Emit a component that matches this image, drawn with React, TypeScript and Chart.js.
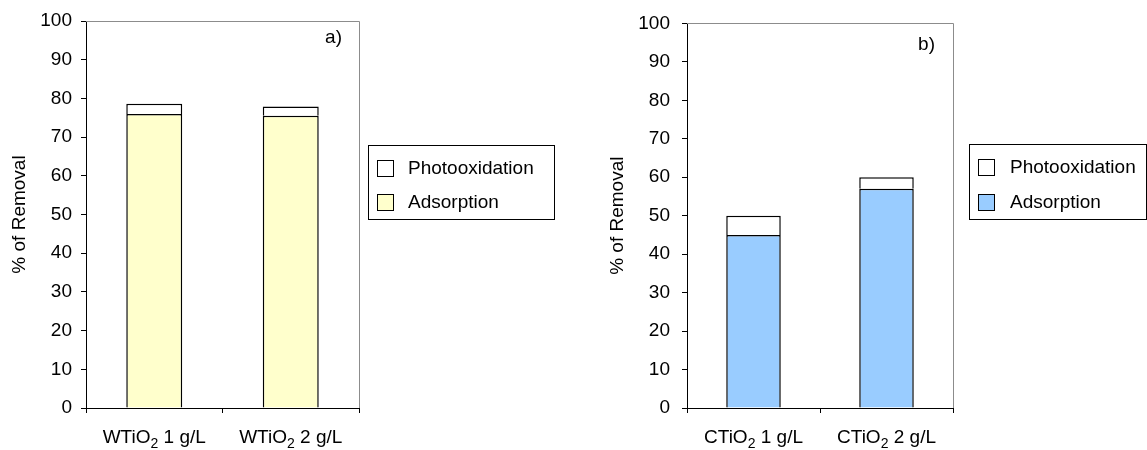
import React, { useEffect, useRef } from 'react';
import { Chart, registerables } from 'chart.js';

Chart.register(...registerables);

const FONT = '"Liberation Sans", Arial, Helvetica, sans-serif';
const FONT_SIZE = 19;

// Value axis
const yMin = 0;
const yMax = 100;
const yStep = 10;
const yTitle = '% of Removal';

// Panel a) – WTiO2
const categoriesA = ['WTiO₂ 1 g/L', 'WTiO₂ 2 g/L'];
const adsorptionA = [76, 75.5];
const photooxidationA = [2.6, 2.4];

// Panel b) – CTiO2
const categoriesB = ['CTiO₂ 1 g/L', 'CTiO₂ 2 g/L'];
const adsorptionB = [45, 57];
const photooxidationB = [5, 3];

const seriesAdsorption = 'Adsorption';
const seriesPhoto = 'Photooxidation';

// Draws category labels, rendering "₂" as a lowered smaller digit
const subscriptLabels = {
  id: 'subscriptLabels',
  afterDraw(chart: any, _a: any, opts: any) {
    const { ctx } = chart;
    const xs = chart.scales.x;
    const labels: string[] = chart.data.labels;
    ctx.save();
    ctx.fillStyle = '#000';
    ctx.textBaseline = 'alphabetic';
    ctx.textAlign = 'left';
    const mainFont = `${FONT_SIZE}px ${FONT}`;
    const subFont = `${opts.subSize}px ${FONT}`;
    labels.forEach((lab, i) => {
      const idx = lab.indexOf('₂');
      const pre = idx >= 0 ? lab.slice(0, idx) : lab;
      const post = idx >= 0 ? lab.slice(idx + 1) : '';
      const sub = idx >= 0 ? '2' : '';
      ctx.font = mainFont;
      const wPre = ctx.measureText(pre).width;
      const wPost = ctx.measureText(post).width;
      ctx.font = subFont;
      const wSub = sub ? ctx.measureText(sub).width : 0;
      const total = wPre + wSub + wPost;
      let x = xs.getPixelForValue(i) - total / 2;
      const base = xs.top + opts.baseline;
      ctx.font = mainFont;
      ctx.fillText(pre, x, base);
      x += wPre;
      if (sub) {
        ctx.font = subFont;
        ctx.fillText(sub, x, base + opts.subDrop);
        x += wSub;
      }
      ctx.font = mainFont;
      ctx.fillText(post, x, base);
    });
    ctx.restore();
  },
};

// Gray frame on the top and right sides of the plot area
const plotFrame = {
  id: 'plotFrame',
  afterDraw(chart: any) {
    const { ctx, chartArea } = chart;
    const t = Math.round(chartArea.top) + 0.5;
    const r = Math.round(chartArea.right) + 0.5;
    const b = Math.round(chartArea.bottom);
    ctx.save();
    ctx.strokeStyle = '#8c8c8c';
    ctx.lineWidth = 1;
    ctx.beginPath();
    ctx.moveTo(Math.round(chartArea.left), t);
    ctx.lineTo(r, t);
    ctx.lineTo(r, b);
    ctx.stroke();
    ctx.restore();
  },
};

// Boxed legend to the right of the plot
const boxLegend = {
  id: 'boxLegend',
  afterDraw(chart: any, _a: any, opts: any) {
    const { ctx, chartArea } = chart;
    const x = Math.round(chartArea.right + opts.gap);
    const y = Math.round(opts.top);
    ctx.save();
    ctx.strokeStyle = '#000';
    ctx.lineWidth = 1;
    ctx.strokeRect(x + 0.5, y + 0.5, opts.width, opts.height);
    const items = chart.data.datasets.slice().reverse();
    ctx.font = `${FONT_SIZE}px ${FONT}`;
    ctx.textBaseline = 'middle';
    ctx.textAlign = 'left';
    items.forEach((ds: any, i: number) => {
      const cy = y + opts.firstRow + i * opts.rowGap;
      const s = opts.swatch;
      const sx = x + opts.inset;
      const sy = Math.round(cy - s / 2);
      ctx.fillStyle = ds.backgroundColor;
      ctx.fillRect(sx, sy, s, s);
      ctx.strokeStyle = '#000';
      ctx.strokeRect(sx + 0.5, sy + 0.5, s - 1, s - 1);
      ctx.fillStyle = '#000';
      ctx.fillText(ds.label, sx + s + opts.textGap, cy + 1);
    });
    ctx.restore();
  },
};

// Panel letter in the upper right corner of the plot
const panelTag = {
  id: 'panelTag',
  afterDraw(chart: any, _a: any, opts: any) {
    const { ctx, chartArea } = chart;
    ctx.save();
    ctx.fillStyle = '#000';
    ctx.font = `${FONT_SIZE}px ${FONT}`;
    ctx.textAlign = 'right';
    ctx.textBaseline = 'alphabetic';
    ctx.fillText(opts.text, chartArea.right - opts.dx, chartArea.top + opts.dy);
    ctx.restore();
  },
};

function makeConfig(p: {
  labels: string[];
  adsorption: number[];
  photo: number[];
  fill: string;
  axisWidth: number;
  titlePad: number;
  tickPad: number;
  padTop: number;
  padRight: number;
  legend: any;
  tag: any;
}) {
  const barCommon = {
    borderColor: '#000',
    borderWidth: 1.5,
    borderSkipped: 'start',
    barPercentage: 0.41,
    categoryPercentage: 1,
  };
  return {
    type: 'bar',
    data: {
      labels: p.labels,
      datasets: [
        { label: seriesAdsorption, data: p.adsorption, backgroundColor: p.fill, ...barCommon },
        { label: seriesPhoto, data: p.photo, backgroundColor: '#ffffff', ...barCommon },
      ],
    },
    options: {
      responsive: false,
      animation: false,
      devicePixelRatio: 1,
      layout: { padding: { top: p.padTop, right: p.padRight, left: 0, bottom: 0 } },
      scales: {
        x: {
          stacked: true,
          offset: true,
          grid: {
            display: true,
            offset: true,
            drawOnChartArea: false,
            drawTicks: true,
            tickLength: 5,
            color: '#000',
            lineWidth: 1,
          },
          border: { display: true, color: '#000', width: 1 },
          ticks: { display: false },
          afterFit: (s: any) => {
            s.height = 42;
          },
        },
        y: {
          stacked: true,
          min: yMin,
          max: yMax,
          ticks: {
            stepSize: yStep,
            padding: p.tickPad,
            color: '#000',
            font: { family: FONT, size: FONT_SIZE },
          },
          grid: {
            display: true,
            drawOnChartArea: false,
            drawTicks: true,
            tickLength: 5,
            color: '#000',
            lineWidth: 1,
          },
          border: { display: true, color: '#000', width: 1 },
          title: {
            display: true,
            text: yTitle,
            color: '#000',
            font: { family: FONT, size: FONT_SIZE, lineHeight: 1 },
            padding: { top: p.titlePad, bottom: 0 },
          },
          afterFit: (s: any) => {
            s.width = p.axisWidth;
          },
        },
      },
      plugins: {
        legend: { display: false },
        tooltip: { enabled: false },
        subscriptLabels: { baseline: 35, subSize: 14, subDrop: 4.5 },
        boxLegend: p.legend,
        panelTag: p.tag,
      },
    },
    plugins: [plotFrame, subscriptLabels, boxLegend, panelTag],
  };
}

function Panel({ left, width, config }: { left: number; width: number; config: any }) {
  const ref = useRef<HTMLCanvasElement | null>(null);
  useEffect(() => {
    if (!ref.current) return;
    const chart = new Chart(ref.current, config);
    return () => chart.destroy();
  }, [config]);
  return (
    <canvas
      ref={ref}
      width={width}
      height={450}
      style={{ position: 'absolute', left, top: 0, width, height: 450 }}
    />
  );
}

const configA = makeConfig({
  labels: categoriesA,
  adsorption: adsorptionA,
  photo: photooxidationA,
  fill: '#ffffcc',
  axisWidth: 86,
  titlePad: 10.5,
  tickPad: 9,
  padTop: 21,
  padRight: 216,
  legend: { gap: 9, top: 145, width: 186, height: 74, firstRow: 23, rowGap: 34, swatch: 17, inset: 9, textGap: 14 },
  tag: { text: 'a)', dx: 17, dy: 22 },
});

const configB = makeConfig({
  labels: categoriesB,
  adsorption: adsorptionB,
  photo: photooxidationB,
  fill: '#99ccff',
  axisWidth: 112,
  titlePad: 33.5,
  tickPad: 12,
  padTop: 18,
  padRight: 194,
  legend: { gap: 16, top: 144, width: 177, height: 75, firstRow: 23, rowGap: 35, swatch: 17, inset: 9, textGap: 15 },
  tag: { text: 'b)', dx: 18, dy: 27 },
});

export default function App() {
  return (
    <div
      style={{
        position: 'fixed',
        left: 0,
        top: 0,
        width: 1147,
        height: 450,
        background: '#fff',
        overflow: 'hidden',
      }}
    >
      <Panel left={0} width={575} config={configA} />
      <Panel left={575} width={572} config={configB} />
    </div>
  );
}
